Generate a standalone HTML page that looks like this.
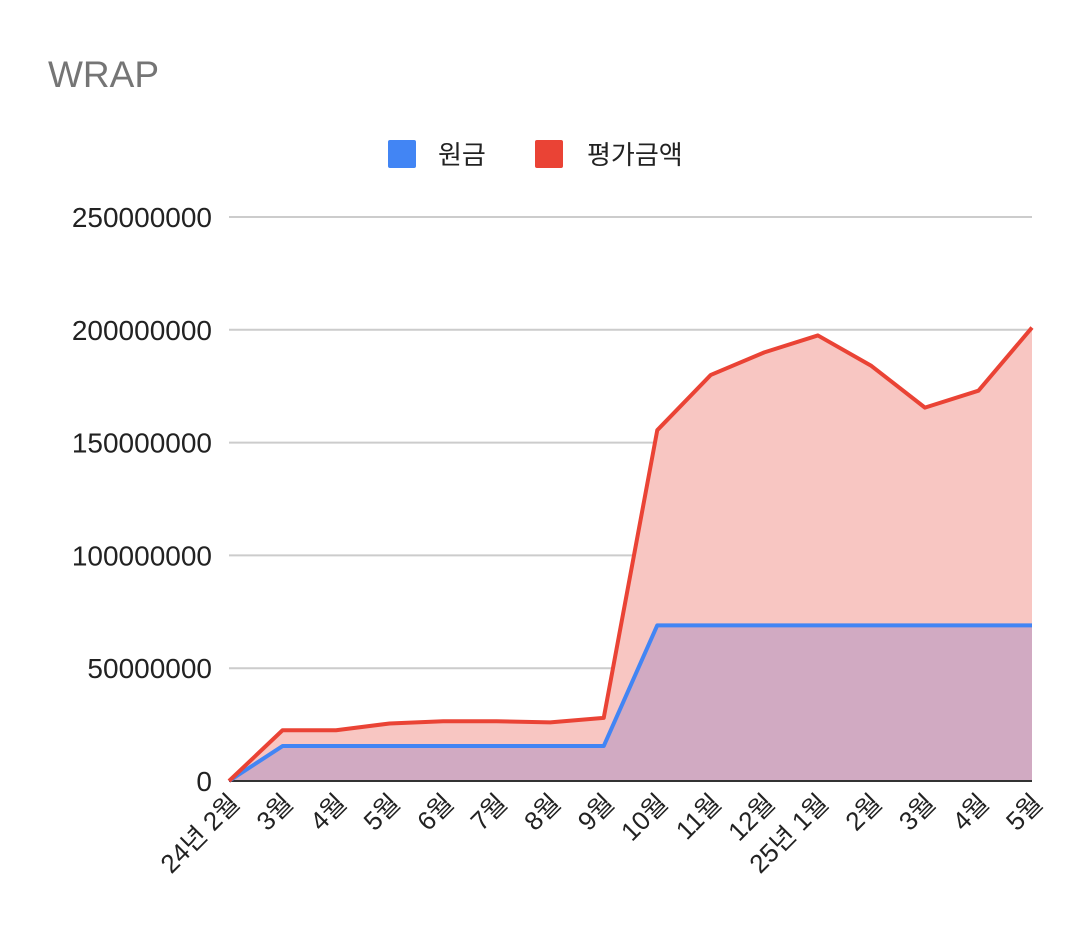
<!DOCTYPE html>
<html><head><meta charset="utf-8"><style>
body{margin:0;background:#fff;}
svg{display:block;font-family:"Liberation Sans","Noto Sans CJK KR",sans-serif;}
</style></head><body>
<svg id="c" width="1080" height="932">
<text x="48" y="87" font-size="37" fill="#757575">WRAP</text>
<g>
<rect x="388" y="140" width="28" height="28" rx="2" fill="#4285f4"/>
<text x="438" y="164" font-size="26" fill="#222">원금</text>
<rect x="535" y="140" width="28" height="28" rx="2" fill="#ea4335"/>
<text x="587" y="164" font-size="26" fill="#222">평가금액</text>
</g>
<g id="grid"></g><g id="areas"></g><g id="lines"></g><g id="xl"></g>
</svg>
<script>
const categories=["24년 2월","3월","4월","5월","6월","7월","8월","9월","10월","11월","12월","25년 1월","2월","3월","4월","5월"];
const principal=[0,15500000,15500000,15500000,15500000,15500000,15500000,15500000,69000000,69000000,69000000,69000000,69000000,69000000,69000000,69000000];
const valuation=[0,22500000,22500000,25500000,26500000,26500000,26000000,28000000,155500000,180000000,190000000,197500000,184000000,165500000,173000000,201000000];
const yTicks=[0,50000000,100000000,150000000,200000000,250000000];
const X0=229,X1=1032,Y0=781,Y1=217,YMAX=250000000;
const xs=i=>X0+(X1-X0)*i/(categories.length-1);
const ys=v=>Y0-(Y0-Y1)*v/YMAX;
const NS="http://www.w3.org/2000/svg";
function mk(t,a,p){const e=document.createElementNS(NS,t);for(const k in a)e.setAttribute(k,a[k]);p.appendChild(e);return e;}
const grid=document.getElementById('grid');
yTicks.forEach((v,i)=>{
 if(i>0){const l=mk('line',{x1:X0,x2:X1,y1:ys(v),y2:ys(v),stroke:'#ccc','stroke-width':2},grid);
 
 }
 const t=mk('text',{x:212,y:ys(v)+10,'text-anchor':'end','font-size':28,fill:'#222'},grid);
 t.textContent=String(v);
 
 
});
const areas=document.getElementById('areas'),lines=document.getElementById('lines');
function pts(arr){return arr.map((v,i)=>xs(i)+','+ys(v)).join(' ');}
const ra=mk('polygon',{points:pts(valuation)+' '+X1+','+Y0+' '+X0+','+Y0,fill:'#f8c6c2'},areas);


const ba=mk('polygon',{points:pts(principal)+' '+X1+','+Y0+' '+X0+','+Y0,fill:'#d1aac2'},areas);


const ax=mk('line',{x1:X0,x2:X1,y1:Y0,y2:Y0,stroke:'#333','stroke-width':2},lines);


const bl=mk('polyline',{points:pts(principal),fill:'none',stroke:'#4285f4','stroke-width':4,'stroke-linejoin':'round'},lines);


const rl=mk('polyline',{points:pts(valuation),fill:'none',stroke:'#ea4335','stroke-width':4,'stroke-linejoin':'round'},lines);


const xl=document.getElementById('xl');
categories.forEach((c,i)=>{
 const x=xs(i)+12,y=805;
 const t=mk('text',{x:x,y:y,'text-anchor':'end','font-size':26,fill:'#222',transform:`rotate(-45 ${x} ${y})`},xl);
 t.textContent=c;
 
 
});
</script>
</body></html>
